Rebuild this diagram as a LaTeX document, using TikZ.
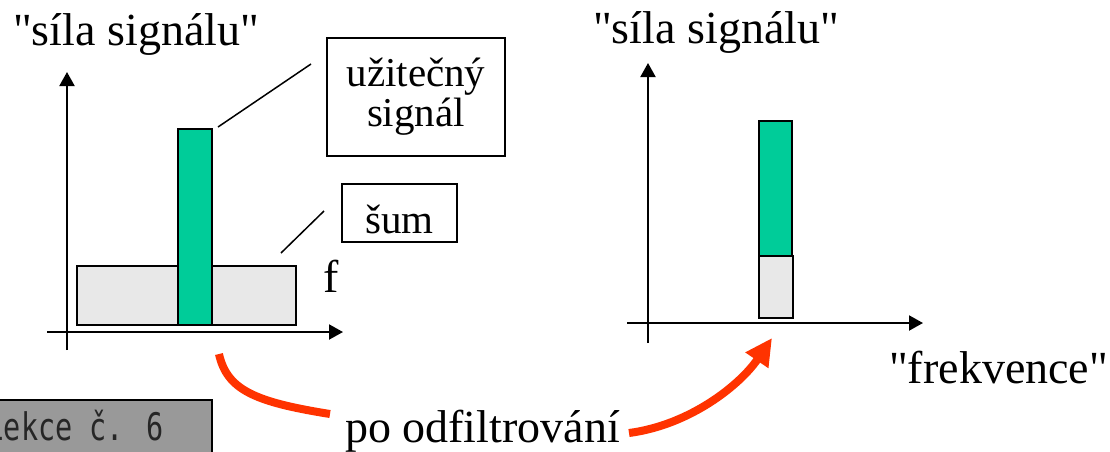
\documentclass[tikz,border=0pt]{standalone}
\usepackage{fontspec}
\setmainfont{Liberation Serif}
\newfontfamily\plainserif{Liberation Serif}
\newfontfamily\lekcefont{DejaVu Sans Mono}
\usetikzlibrary{arrows.meta}
\definecolor{sigGreen}{HTML}{00CC99}
\definecolor{noiseGray}{HTML}{E8E8E8}
\definecolor{arrowRed}{HTML}{FF3300}
\definecolor{lekceGray}{HTML}{999999}
\definecolor{lekceText}{HTML}{262626}
\begin{document}
\begin{tikzpicture}[x=1pt,y=-1pt,
  axis/.style={line width=2pt,-{Triangle[length=14pt,width=15pt]}},
  bar/.style={draw=black,line width=2pt,inner sep=0pt,outer sep=0pt},
  lbl/.style={font=\plainserif\fontsize{46}{50}\selectfont,inner sep=0pt,anchor=base west},
  tagbox/.style={draw=black,line width=2pt,font=\plainserif\fontsize{41}{40}\selectfont,align=center,inner sep=0pt},
  leader/.style={line width=1.5pt},
  bendline/.style={draw=arrowRed,line width=8pt},
]
\useasboundingbox (0,0) rectangle (1110,451);

% ---------- left graph ----------
\node[bar,fill=noiseGray,minimum width=219pt,minimum height=59pt] (noiseL) at (186.5,295.5) {};
\node[bar,fill=sigGreen,minimum width=34pt,minimum height=196pt] (sigL) at (195,227) {};
\coordinate (lx0) at (47,332);  \coordinate (lx1) at (343,332);
\coordinate (ly0) at (67,350);  \coordinate (ly1) at (67,72);
\draw[axis] (lx0) -- (lx1);
\draw[axis] (ly0) -- (ly1);
\node[lbl] (ylabL) at (13,45) {"síla signálu"};
\node[lbl] (fL) at (323,292) {f};

\node[tagbox,minimum width=178pt,minimum height=118pt] (usig) at (416,97) {užitečný\\signál};
\node[tagbox,minimum width=115pt,minimum height=58pt,text height=40pt,text depth=0pt] (sum) at (399.5,213) {šum};
\coordinate (ld1a) at (218,127); \coordinate (ld1b) at (311,64);
\coordinate (ld2a) at (281,253); \coordinate (ld2b) at (324,211);
\draw[leader] (ld1a) -- (ld1b);
\draw[leader] (ld2a) -- (ld2b);

% ---------- right graph ----------
\node[bar,fill=sigGreen,minimum width=33pt,minimum height=135pt] (sigR) at (775.5,188.5) {};
\node[bar,fill=noiseGray,minimum width=34pt,minimum height=62pt] (noiseR) at (776,287) {};
\coordinate (rx0) at (627,323);  \coordinate (rx1) at (923,323);
\coordinate (ry0) at (648,343);  \coordinate (ry1) at (648,63);
\draw[axis] (rx0) -- (rx1);
\draw[axis] (ry0) -- (ry1);
\node[lbl] (ylabR) at (593,43) {"síla signálu"};
\node[lbl] (freq) at (889,383) {"frekvence"};

% ---------- filtering arrows ----------
\node[lbl,anchor=base east] (po) at (620,442) {po odfiltrování};
\coordinate (c1s) at (219,354); \coordinate (c1e) at (330,414);
\draw[bendline] (c1s) .. controls (227,390) and (255,402) .. (c1e);
\coordinate (c2s) at (629,433); \coordinate (c2e) at (772,338);
\draw[bendline,-{Triangle[length=27pt,width=26pt]}] (c2s) .. controls (690,425) and (740,385) .. (c2e);

% ---------- lecture tag ----------
\node[draw=black,line width=2pt,fill=lekceGray,minimum width=232pt,minimum height=70pt,inner sep=0pt] (lekce) at (96,435) {};
\node[inner sep=0pt,anchor=base west,text=lekceText,font=\lekcefont\fontsize{38}{38}\selectfont] (lekceT) at (-13.5,440) {\scalebox{0.75}[1]{Lekce č. 6}};
\end{tikzpicture}
\end{document}
